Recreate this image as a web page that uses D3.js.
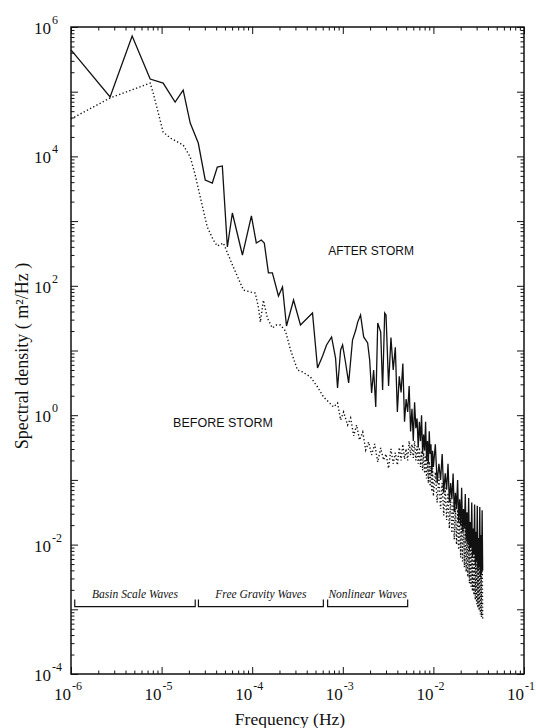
<!DOCTYPE html>
<html><head><meta charset="utf-8">
<script src="https://cdn.jsdelivr.net/npm/d3@7"></script>
<style>body{margin:0;background:#fff}</style>
</head><body>
<svg id="chart" width="536" height="728"></svg>
<script>
// ---- DATA ----
// After storm, low & mid frequencies
const afterFreq = [1.0e-6,2.70e-6,4.73e-6,7.48e-6,1.04e-5,1.41e-5,1.73e-5,2.07e-5,2.54e-5,3.03e-5,3.63e-5,4.12e-5,4.68e-5,5.32e-5,6.04e-5,7.8e-5,9.8e-5,1.11e-4,1.26e-4,1.36e-4,1.51e-4,1.67e-4,1.95e-4,2.16e-4,2.39e-4,2.86e-4,3.41e-4,4.63e-4,5.26e-4,5.98e-4,6.62e-4,7.52e-4,8.32e-4,8.75e-4,9.46e-4,9.95e-4,1.07e-3,1.16e-3,1.28e-3,1.39e-3,1.46e-3,1.57e-3,1.70e-3,1.88e-3,1.98e-3,2.08e-3,2.19e-3,2.31e-3,2.43e-3,2.62e-3,2.75e-3,2.90e-3];
const afterDensity = [4.42e5,8.28e4,7.26e5,1.57e5,1.36e5,6.93e4,1.06e5,3.28e4,1.61e4,4320,3880,6860,7110,398,1333,299,1200,459,511,459,158,158,69.5,96,23.9,60.4,24.8,38,5.37,8.2,12.2,16.2,7.65,2.63,10.2,12.2,6.64,3.15,14.5,20.7,27.5,35.4,16.2,13.1,7.13,2.20,5.0,1.34,26.6,19.3,2.45,38.0];
// Before storm, low & mid frequencies
const beforeFreq = [1.0e-6,2.70e-6,7.48e-6,8.07e-6,1.04e-5,1.25e-5,1.73e-5,2.07e-5,2.35e-5,2.67e-5,3.19e-5,3.72e-5,4.12e-5,4.80e-5,6.19e-5,8.0e-5,9.55e-5,1.08e-4,1.17e-4,1.23e-4,1.33e-4,1.47e-4,1.67e-4,1.85e-4,2.05e-4,2.33e-4,2.65e-4,3.16e-4,3.59e-4,4.40e-4,5.26e-4,6.13e-4,6.97e-4,7.91e-4,8.75e-4,9.46e-4,1.02e-3,1.13e-3,1.22e-3,1.32e-3,1.42e-3,1.53e-3,1.66e-3,1.79e-3,1.93e-3,2.08e-3,2.25e-3,2.43e-3,2.62e-3,2.82e-3];
const beforeDensity = [3.79e4,8.0e4,1.36e5,9.55e4,2.38e4,1.92e4,1.50e4,9800,5160,2360,811,511,412,459,195,86,80,77,47,27.5,60,31.8,22.3,24.8,24.8,20.0,10.2,5.0,4.66,3.89,2.73,1.91,1.60,1.34,1.55,0.843,1.12,0.706,0.906,0.478,0.706,0.414,0.55,0.29,0.385,0.243,0.359,0.189,0.311,0.203];
// High-frequency (dense) part, shared frequencies
const hfFreq = [0.0030,0.0032,0.0034,0.0036,0.0038,0.0040,0.0042,0.0044,0.0046,0.0048,0.0050,0.0052,0.0054,0.0056,0.0058,0.0060,0.0062,0.0064,0.0066,0.0068,0.0070,0.0072,0.0074,0.0076,0.0078,0.0080,0.0082,0.0084,0.0086,0.0088,0.0090,0.0092,0.0094,0.0096,0.0098,0.0100,
  0.0105,0.0110,0.0115,0.0120,0.0125,0.0130,0.0135,0.0140,0.0145,0.0150,0.0155,0.0160,0.0165,0.0170,0.0175,0.0180,0.0185,0.0190,0.0195,0.0200,0.0205,0.0210,0.0215,0.0220,0.0225,0.0230,0.0235,0.0240,0.0245,0.0250,0.0255,0.0260,0.0265,0.0270,0.0275,0.0280,0.0285,0.0290,0.0295,0.0300,0.0305,0.0310,0.0315,0.0320,0.0325,0.0330,0.0335,0.0340,0.0345,0.0350];
const afterHF = [35.5,2.82,15.8,5.01,11.2,1.12,3.98,2.24,6.31,0.794,1.78,1.12,2.82,0.562,1.26,0.398,1.58,0.631,0.891,0.316,0.794,0.398,1.0,0.251,0.501,0.282,0.794,0.200,0.398,0.178,0.562,0.251,0.355,0.126,0.282,0.158,
  0.355,0.0891,0.178,0.100,0.251,0.0631,0.126,0.0708,0.178,0.0447,0.0891,0.0501,0.126,0.0316,0.0631,0.0355,0.100,0.0224,0.0501,0.0200,0.0759,0.0158,0.0355,0.0178,0.0603,0.0112,0.0316,0.0100,0.0525,0.00794,0.0224,0.00891,0.0447,0.00631,0.0178,0.00708,0.0417,0.00501,0.0158,0.00562,0.0398,0.00398,0.0126,0.00447,0.0380,0.00316,0.0141,0.00355,0.0339,0.00398];
const beforeHF = [0.251,0.151,0.302,0.178,0.263,0.170,0.316,0.200,0.355,0.209,0.302,0.200,0.398,0.240,0.355,0.219,0.398,0.200,0.331,0.178,0.316,0.158,0.282,0.141,0.263,0.126,0.240,0.105,0.219,0.0891,0.191,0.0794,0.166,0.0661,0.151,0.0562,
  0.132,0.0447,0.112,0.0355,0.0891,0.0282,0.0759,0.0240,0.0631,0.0178,0.0525,0.0151,0.0447,0.0120,0.0380,0.0100,0.0347,0.00832,0.0302,0.00631,0.0275,0.00550,0.0251,0.00447,0.0219,0.00380,0.0200,0.00316,0.0182,0.00251,0.0174,0.00224,0.0158,0.00191,0.0145,0.00166,0.0138,0.00141,0.0132,0.00120,0.0126,0.00105,0.0120,0.000955,0.0112,0.000832,0.0105,0.000759,0.00955,0.000676];
// Axis ticks
const xTickExps = [-6,-5,-4,-3,-2,-1];
const yTickExps = [-4,-2,0,2,4,6];
// Wave-band annotations
const bandNames = ["Basin Scale Waves","Free Gravity Waves","Nonlinear Waves"];
const bandStart = [1.1e-6,2.55e-5,6.8e-4];
const bandEnd = [2.35e-5,6.1e-4,5.2e-3];
const bandLevel = 1.1e-3;
const seriesLabels = ["AFTER STORM","BEFORE STORM"];
const seriesLabelFreq = [6.9e-4,1.34e-5];

// ---- DRAW ----
const svg = d3.select("#chart");
const L=71,R=524,T=27,B=674;
const x = d3.scaleLog().domain([1e-6,1e-1]).range([L,R]);
const y = d3.scaleLog().domain([1e-4,1e6]).range([B,T]);
const ink = "#111";
const isMajor = v => Math.abs(Math.log10(v)-Math.round(Math.log10(v)))<1e-9;
const xMinor = x.ticks(60).filter(v=>!isMajor(v));
const yMinor = y.ticks(60).filter(v=>!isMajor(v));
const xMajor = xTickExps.map(e=>Math.pow(10,e));
const yMajor = d3.range(-4,7).map(e=>Math.pow(10,e));

function ax(gen, tx, ty, vals, size){
  const g = svg.append("g").attr("transform",`translate(${tx},${ty})`)
    .call(gen.tickValues(vals).tickSize(-size).tickFormat(""));
  g.select(".domain").remove();
  g.selectAll("line").attr("stroke",ink).attr("stroke-width",1);
}
ax(d3.axisBottom(x),0,B,xMinor,3.5); ax(d3.axisBottom(x),0,B,xMajor,7);
ax(d3.axisTop(x),0,T,xMinor,3.5); ax(d3.axisTop(x),0,T,xMajor,7);
ax(d3.axisLeft(y),L,0,yMinor,3.5); ax(d3.axisLeft(y),L,0,yMajor,7);
ax(d3.axisRight(y),R,0,yMinor,3.5); ax(d3.axisRight(y),R,0,yMajor,7);

svg.append("rect").attr("x",L).attr("y",T).attr("width",R-L).attr("height",B-T)
  .attr("fill","none").attr("stroke",ink).attr("stroke-width",1.5);

const serif = "'Liberation Serif','Times New Roman',serif";
// y tick labels
yTickExps.forEach(e=>{
  const v=Math.pow(10,e), yy=y(v);
  svg.append("text").attr("x",51).attr("y",yy+7).attr("text-anchor","end")
    .attr("font-family",serif).attr("font-size",17).attr("fill",ink).text("10");
  svg.append("text").attr("x",52).attr("y",yy-3).attr("font-family",serif)
    .attr("font-size",12).attr("fill",ink).text(String(e));
});
// x tick labels
xTickExps.forEach(e=>{
  const v=Math.pow(10,e), xx=x(v);
  svg.append("text").attr("x",xx).attr("y",700).attr("text-anchor","end")
    .attr("font-family",serif).attr("font-size",17).attr("fill",ink).text("10");
  svg.append("text").attr("x",xx+1).attr("y",690).attr("font-family",serif)
    .attr("font-size",12).attr("fill",ink).text(String(e));
});
svg.append("text").attr("x",290).attr("y",725).attr("text-anchor","middle")
  .attr("font-family",serif).attr("font-size",17.5).attr("fill",ink).text("Frequency (Hz)");
svg.append("text").attr("transform","translate(28,356) rotate(-90)").attr("text-anchor","middle")
  .attr("font-family",serif).attr("font-size",18).attr("fill",ink).text("Spectral density ( m²/Hz )");

// series
const line = d3.line().x(d=>x(d[0])).y(d=>y(d[1]));
const afterData = afterFreq.map((f,i)=>[f,afterDensity[i]]).concat(hfFreq.map((f,i)=>[f,afterHF[i]]));
const beforeData = beforeFreq.map((f,i)=>[f,beforeDensity[i]]).concat(hfFreq.map((f,i)=>[f,beforeHF[i]]));
svg.append("path").datum(beforeData).attr("d",line).attr("fill","none")
  .attr("stroke",ink).attr("stroke-width",1.4).attr("stroke-dasharray","1.3,2.3");
svg.append("path").datum(afterData).attr("d",line).attr("fill","none")
  .attr("stroke",ink).attr("stroke-width",1.3).attr("stroke-linejoin","miter");

// series labels
const sans = "'Liberation Sans',Arial,sans-serif";
svg.append("text").attr("x",x(seriesLabelFreq[0])).attr("y",255).attr("font-family",sans)
  .attr("font-size",12).attr("fill",ink).text(seriesLabels[0]);
svg.append("text").attr("x",x(seriesLabelFreq[1])).attr("y",427).attr("font-family",sans)
  .attr("font-size",12.5).attr("fill",ink).text(seriesLabels[1]);

// band brackets
const by = y(bandLevel);
bandNames.forEach((n,i)=>{
  const x0=x(bandStart[i]), x1=x(bandEnd[i]);
  svg.append("path").attr("d",`M${x0},${by-7}V${by}H${x1}V${by-7}`)
    .attr("fill","none").attr("stroke",ink).attr("stroke-width",1.2);
  svg.append("text").attr("x",(x0+x1)/2).attr("y",by-9).attr("text-anchor","middle")
    .attr("font-family",serif).attr("font-style","italic").attr("font-size",11.5)
    .attr("fill",ink).text(n);
});
</script>
</body></html>
